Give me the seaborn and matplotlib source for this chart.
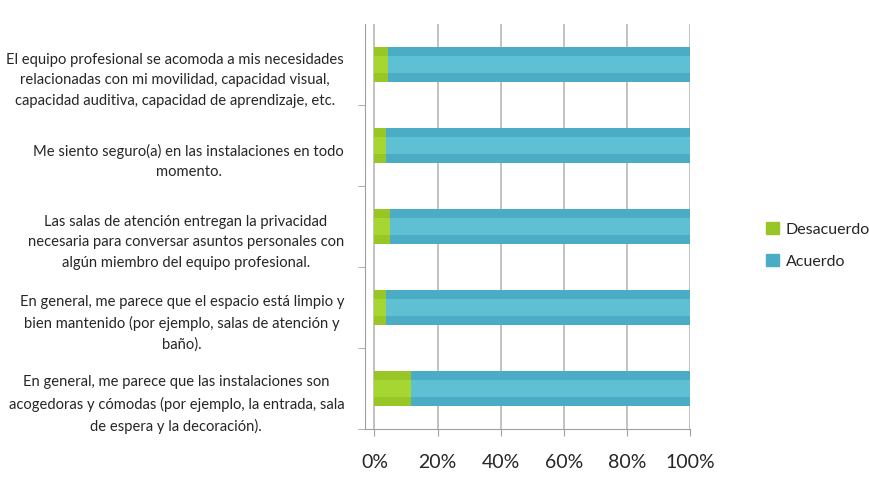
import matplotlib
matplotlib.use("Agg")
import matplotlib.pyplot as plt
import matplotlib.transforms as mtransforms
import numpy as np
import pandas as pd
import seaborn as sns

categories = [
    "El equipo profesional se acomoda a mis necesidades\nrelacionadas con mi movilidad, capacidad visual,\ncapacidad auditiva, capacidad de aprendizaje, etc.",
    "Me siento seguro(a) en las instalaciones en todo\nmomento.",
    "Las salas de atención entregan la privacidad\nnecesaria para conversar asuntos personales con\nalgún miembro del equipo profesional.",
    "En general, me parece que el espacio está limpio y\nbien mantenido (por ejemplo, salas de atención y\nbaño).",
    "En general, me parece que las instalaciones son\nacogedoras y cómodas (por ejemplo, la entrada, sala\nde espera y la decoración).",
]
desacuerdo = [4.2, 3.6, 4.8, 3.6, 11.7]
acuerdo = [95.8, 96.4, 95.2, 96.4, 88.3]
x_ticks = [0, 20, 40, 60, 80, 100]

green = "#97c626"
teal = "#4bacc6"

sns.set_style("white")
plt.rcParams["font.family"] = ["Lato", "DejaVu Sans"]

df = pd.DataFrame({"Pregunta": categories, "Desacuerdo": desacuerdo, "Acuerdo": acuerdo})
df["Total"] = df["Desacuerdo"] + df["Acuerdo"]

fig = plt.figure(figsize=(8.7, 4.81), dpi=100)
ax = fig.add_axes([365 / 870, 1 - 430 / 481, 325 / 870, 405 / 481])

bar_kw = dict(linewidth=0, saturation=1, ax=ax)
sns.barplot(data=df, y="Pregunta", x="Total", color=teal, width=0.42, zorder=3, **bar_kw)
sns.barplot(data=df, y="Pregunta", x="Desacuerdo", color=green, width=0.42, zorder=4, **bar_kw)
# lighter band to hint at the cylinder shading
sns.barplot(data=df, y="Pregunta", x="Total", color="#5fc0d4", width=0.2, zorder=5, **bar_kw)
sns.barplot(data=df, y="Pregunta", x="Desacuerdo", color="#a6d632", width=0.2, zorder=6, **bar_kw)

ax.set_xlim(-3, 100)
ax.set_ylim(4.5, -0.5)
ax.set_xticks(x_ticks)
ax.set_xticklabels([f"{t}%" for t in x_ticks], fontsize=14)
ax.xaxis.grid(True, color="#b8b8b8", linewidth=1.2, zorder=0)
ax.set_xlabel("")
ax.set_ylabel("")

ax.set_yticks(range(len(categories)))
ax.set_yticklabels(categories, fontsize=10.6, multialignment="center", linespacing=1.6)
ax.set_yticks(np.arange(0.5, len(categories), 1), minor=True)
ax.tick_params(axis="y", which="major", length=0, pad=15)
ax.tick_params(axis="y", which="minor", length=5, color="#a0a0a0", left=True)
ax.tick_params(axis="x", length=5, color="#a0a0a0", bottom=True, pad=12)

# labels sit a little lower than the bars, as in the 3-D original
shift = mtransforms.ScaledTranslation(0, -0.10, fig.dpi_scale_trans)
for lab in ax.get_yticklabels():
    lab.set_transform(lab.get_transform() + shift)

for side in ["top", "right"]:
    ax.spines[side].set_visible(False)
for side in ["left", "bottom"]:
    ax.spines[side].set_color("#a0a0a0")

handles = [
    plt.Rectangle((0, 0), 1, 1, color=green),
    plt.Rectangle((0, 0), 1, 1, color=teal),
]
fig.legend(handles, ["Desacuerdo", "Acuerdo"], loc="center left", bbox_to_anchor=(752 / 870, 1 - 246 / 481),
           frameon=False, fontsize=11.5, handlelength=0.8, handleheight=0.8, labelspacing=1.1, handletextpad=0.4)

fig.savefig("out.png", dpi=100)
